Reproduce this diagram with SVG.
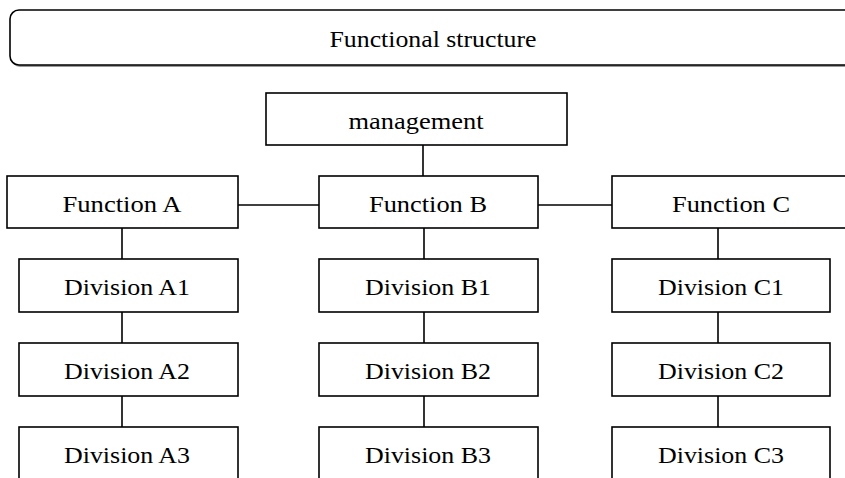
<svg xmlns="http://www.w3.org/2000/svg" width="845" height="478" viewBox="0 0 845 478">
<style>
.box{fill:#fff;stroke:#000;stroke-width:1.6}
.lbl{font-family:'Liberation Serif','Times New Roman','DejaVu Serif',serif;font-size:24px;fill:#000;text-anchor:middle}
.con{stroke:#000;stroke-width:1.6;fill:none}
</style>
<rect width="845" height="478" fill="#fff"/>
<g id="title">
<rect x="11" y="12" width="850" height="55" rx="9" fill="#999" stroke="none"/>
<rect x="10" y="10" width="850" height="55" rx="9" class="box"/>
<text x="433" y="47" class="lbl" textLength="207" lengthAdjust="spacingAndGlyphs">Functional structure</text>
</g>
<g id="connectors">
<line x1="423" y1="145" x2="423" y2="176" class="con"/>
<line x1="238" y1="205" x2="319" y2="205" class="con"/>
<line x1="538" y1="205" x2="612" y2="205" class="con"/>
<line x1="122" y1="228" x2="122" y2="259" class="con"/>
<line x1="122" y1="312" x2="122" y2="343" class="con"/>
<line x1="122" y1="396" x2="122" y2="427" class="con"/>
<line x1="424" y1="228" x2="424" y2="259" class="con"/>
<line x1="424" y1="312" x2="424" y2="343" class="con"/>
<line x1="424" y1="396" x2="424" y2="427" class="con"/>
<line x1="718" y1="228" x2="718" y2="259" class="con"/>
<line x1="718" y1="312" x2="718" y2="343" class="con"/>
<line x1="718" y1="396" x2="718" y2="427" class="con"/>
</g>
<g id="management"><rect x="266" y="93" width="301" height="52" class="box"/><text x="416" y="129" class="lbl" textLength="135" lengthAdjust="spacingAndGlyphs">management</text></g>
<g id="functionA"><rect x="7" y="176" width="231" height="52" class="box"/><text x="122" y="212" class="lbl" textLength="119" lengthAdjust="spacingAndGlyphs">Function A</text></g>
<g id="functionB"><rect x="319" y="176" width="219" height="52" class="box"/><text x="428" y="212" class="lbl" textLength="118" lengthAdjust="spacingAndGlyphs">Function B</text></g>
<g id="functionC"><rect x="612" y="176" width="240" height="52" class="box"/><text x="731" y="212" class="lbl" textLength="118" lengthAdjust="spacingAndGlyphs">Function C</text></g>
<g id="divA1"><rect x="19" y="259" width="219" height="53" class="box"/><text x="127" y="295" class="lbl" textLength="126" lengthAdjust="spacingAndGlyphs">Division A1</text></g>
<g id="divA2"><rect x="19" y="343" width="219" height="53" class="box"/><text x="127" y="379" class="lbl" textLength="126" lengthAdjust="spacingAndGlyphs">Division A2</text></g>
<g id="divA3"><rect x="19" y="427" width="219" height="60" class="box"/><text x="127" y="463" class="lbl" textLength="126" lengthAdjust="spacingAndGlyphs">Division A3</text></g>
<g id="divB1"><rect x="319" y="259" width="219" height="53" class="box"/><text x="428" y="295" class="lbl" textLength="126" lengthAdjust="spacingAndGlyphs">Division B1</text></g>
<g id="divB2"><rect x="319" y="343" width="219" height="53" class="box"/><text x="428" y="379" class="lbl" textLength="126" lengthAdjust="spacingAndGlyphs">Division B2</text></g>
<g id="divB3"><rect x="319" y="427" width="219" height="60" class="box"/><text x="428" y="463" class="lbl" textLength="126" lengthAdjust="spacingAndGlyphs">Division B3</text></g>
<g id="divC1"><rect x="612" y="259" width="218" height="53" class="box"/><text x="721" y="295" class="lbl" textLength="126" lengthAdjust="spacingAndGlyphs">Division C1</text></g>
<g id="divC2"><rect x="612" y="343" width="218" height="53" class="box"/><text x="721" y="379" class="lbl" textLength="126" lengthAdjust="spacingAndGlyphs">Division C2</text></g>
<g id="divC3"><rect x="612" y="427" width="218" height="60" class="box"/><text x="721" y="463" class="lbl" textLength="126" lengthAdjust="spacingAndGlyphs">Division C3</text></g>
</svg>
